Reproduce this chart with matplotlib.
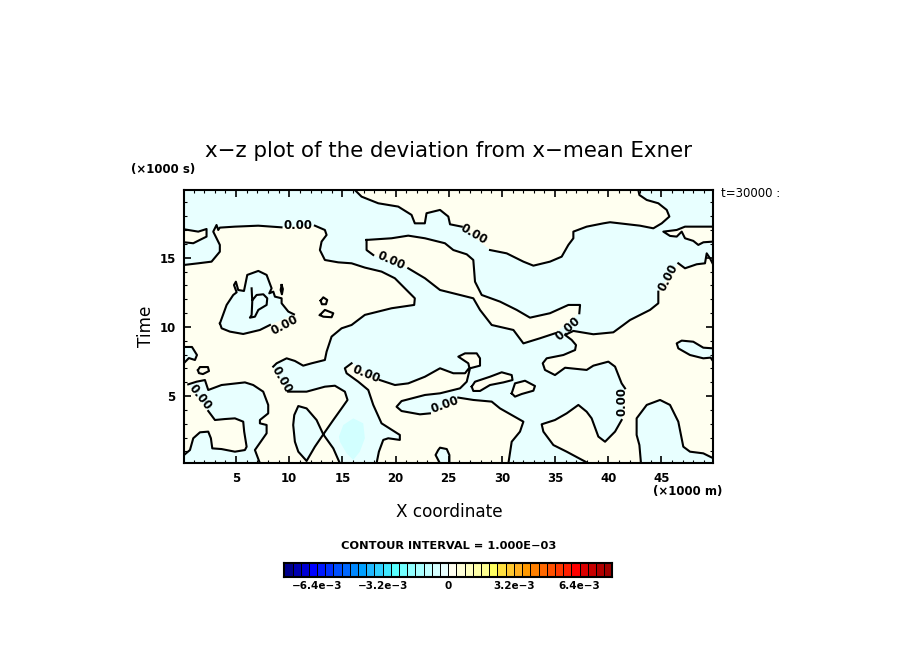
# -*- coding: utf-8 -*-
import numpy as np
import matplotlib
matplotlib.use("Agg")
import matplotlib.pyplot as plt
from matplotlib.colors import ListedColormap
from matplotlib.ticker import MultipleLocator

nan = np.nan

# -------------------- zero contours (x in km, t in ks) --------------------
# nan = gap in the line where a contour label sits
# cream regions
top_x = [16.17, 16.80, 18.37, 20.25, 21.50, 21.81, 22.75, 22.91, 24.18, 24.96, 25.12, 26.22, nan, 28.88, 30.45, 32.02, 32.96, 34.52, 35.62, 36.25, 36.72, 36.72, 37.97, 39.54, 40.17, 42.99, 44.24, 45.03, 45.75, 45.50, 44.71, 43.62, 42.93, 42.83]
top_y = [19.90, 19.42, 18.94, 18.70, 18.10, 17.49, 17.49, 18.22, 18.46, 17.98, 17.42, 17.25, nan, 15.56, 15.32, 14.72, 14.43, 14.72, 15.08, 15.93, 16.41, 16.89, 17.25, 17.49, 17.57, 17.32, 17.13, 17.49, 17.98, 18.46, 18.94, 19.18, 19.54, 19.90]

finger_r_x = [49.89, 47.22, 46.44, 45.18, 45.81, 46.44, 46.91, 47.22, 48.00, 48.47, 48.95, 49.89]
finger_r_y = [17.25, 17.25, 17.01, 16.89, 16.58, 16.53, 16.89, 16.41, 16.22, 15.93, 16.12, 16.17]

finger_l_x = [0.10, 1.44, 2.22, 2.22, 1.59, 0.97, 0.10]
finger_l_y = [17.06, 16.89, 17.08, 16.53, 16.29, 16.05, 16.12]

left_x = [0.10, 1.44, 2.69, 3.47, 3.47, 2.85, 3.16, 3.32, 3.47, 4.88, 7.08, 9.27, nan, 12.41, 13.35, 13.51, 13.04, 12.88, 13.35, 14.60, 15.86, 17.11, 18.68, 19.93, 21.03, 21.81, 21.75, 19.62, 17.11, 15.86, 14.92, 13.98, 13.51, 13.35, 12.10, 11.31, 10.53, 9.75, 8.81, 8.49, nan, 9.90, 11.63, 13.35, 14.29, 15.23, 15.48, 14.92, 14.14, 13.20, 14.14, 14.76, 7.24, 6.77, 7.87, 7.87, 7.24, 7.24, 8.02, 8.02, 7.55, 6.61, 5.83, 3.63, 2.38, 2.07, 1.28, 0.50, nan, 2.38, 3.01, 3.95, 4.89, 5.67, 5.76, 5.99, 5.83, 4.89, 3.63, 2.76, 2.63, 2.38, 1.60, 0.97, 0.66, 0.10]
left_y = [14.48, 14.60, 14.72, 15.44, 15.93, 16.89, 17.37, 17.01, 17.18, 17.25, 17.32, 17.20, nan, 17.32, 17.01, 16.65, 16.17, 15.56, 14.84, 14.67, 14.60, 14.29, 14.00, 13.52, 12.67, 12.07, 11.59, 11.35, 10.87, 10.14, 9.90, 9.30, 8.21, 7.61, 7.37, 7.20, 7.54, 7.73, 7.37, 7.13, nan, 5.32, 5.32, 5.68, 5.75, 5.32, 4.72, 4.11, 3.27, 2.23, 1.22, 0.14, 0.14, 1.10, 2.31, 2.91, 3.03, 3.27, 3.75, 4.36, 5.32, 5.80, 5.99, 5.80, 5.44, 6.16, 6.04, 5.85, nan, 3.92, 3.27, 3.34, 3.39, 3.15, 2.43, 1.34, 1.10, 0.98, 1.17, 1.22, 1.95, 2.43, 2.38, 1.95, 1.10, 0.74]

band_x = [17.27, 19.62, 21.19, 22.76, 24.64, 25.43, 26.69, 27.31, 27.47, 28.10, 29.82, 31.39, 32.64, 34.52, 36.25, 37.35, 37.28, nan, 35.00, 33.58, 32.02, 31.08, 29.04, 27.94, 27.31, 26.06, 24.18, 22.76, 21.19, nan, 17.90, 17.27, 17.27]
band_y = [16.29, 16.41, 16.60, 16.41, 16.05, 15.56, 15.25, 14.84, 13.27, 12.31, 11.83, 11.23, 10.67, 10.99, 11.59, 11.59, 10.99, nan, 9.54, 9.18, 8.81, 9.78, 10.14, 11.23, 12.07, 12.31, 12.67, 13.52, 14.24, nan, 15.20, 15.56, 16.29]

right_x = [49.89, 49.57, 49.26, 49.10, 48.32, 47.22, 46.59, nan, 44.71, 44.71, 43.93, 42.05, 41.42, 40.48, 38.60, 36.72, 35.94, 36.56, 36.97, 36.88, 35.78, 34.21, 33.84, 34.05, 34.99, 35.94, 37.97, 38.60, 40.01, 40.64, 41.26, 41.58, nan, 41.26, 40.64, 39.70, 39.07, 38.44, 37.97, 37.19, 36.09, 34.99, 33.74, 33.90, 34.84, 36.09, 38.13, 43.08, 42.93, 42.67, 42.67, 43.62, 44.87, 45.81, 46.59, 47.06, 47.69, 48.94, 49.89]
right_y = [14.48, 14.96, 15.32, 14.60, 14.53, 14.24, 14.60, nan, 12.55, 11.71, 11.23, 10.50, 10.14, 9.61, 9.47, 9.71, 9.42, 9.06, 8.69, 8.33, 7.97, 7.73, 7.37, 6.89, 6.52, 7.05, 6.89, 7.20, 7.49, 7.13, 5.92, 5.56, nan, 3.27, 2.43, 1.70, 2.07, 3.39, 3.87, 4.36, 3.75, 3.27, 2.96, 2.43, 1.46, 0.98, 0.14, 0.14, 1.46, 2.19, 3.39, 4.36, 4.72, 4.36, 3.15, 1.34, 0.98, 0.86, 0.50]

mid_x = [18.21, 18.43, 18.84, 19.31, 20.40, 20.40, 18.68, 17.90, 17.43, 16.49, 15.39, 15.23, 15.86, nan, 18.52, 19.94, 21.19, 22.76, 24.18, 25.43, 26.53, 26.94, 26.84, 25.90, 26.53, 27.63, 27.94, 27.94, 27.00, 26.69, 26.06, 24.81, 24.18, 22.76, 20.56, 20.09, 20.56, 22.29, 23.23, nan, 25.90, 27.31, 29.04, 29.82, 32.02, 31.70, 30.92, 30.61]
mid_y = [0.14, 0.98, 1.83, 1.95, 1.83, 2.19, 3.03, 4.36, 5.44, 6.04, 6.65, 7.01, 7.37, nan, 6.16, 5.80, 5.92, 6.40, 7.01, 6.65, 6.65, 7.05, 7.37, 7.85, 8.09, 8.09, 7.73, 7.20, 7.01, 6.04, 5.56, 5.32, 5.20, 5.08, 4.64, 4.23, 3.92, 3.68, 3.75, nan, 4.89, 4.72, 4.60, 4.11, 3.15, 2.43, 1.70, 0.14]

isle_a_x = [27.16, 27.47, 28.88, 29.98, 30.92, 31.00, 30.14, 28.88, 27.94, 27.31, 27.16]
isle_a_y = [5.68, 6.04, 6.40, 6.72, 6.52, 6.16, 5.99, 5.80, 5.37, 5.37, 5.68]
isle_b_x = [30.92, 31.23, 32.17, 33.11, 32.96, 31.86, 31.23, 30.92]
isle_b_y = [5.20, 5.92, 6.11, 5.73, 5.39, 5.15, 4.96, 5.20]

# cyan regions lying on the cream
island_x = [3.48, 4.11, 4.73, 5.05, 4.80, 4.98, 5.20, 5.74, 6.05, 7.09, 7.87, 8.34, 8.12, 8.50, 8.65, 9.28, 9.28, 9.91, 10.44, nan, 8.18, 7.24, 5.67, 4.42, 3.64, 3.48]
island_y = [10.26, 11.59, 12.31, 12.50, 13.03, 13.27, 12.67, 12.60, 13.76, 14.05, 13.76, 12.79, 12.43, 12.55, 12.19, 12.07, 11.71, 11.11, 10.91, nan, 10.14, 9.78, 9.49, 9.66, 9.90, 10.26]
lobe_x = [13.20, 12.57, 11.63, 10.85, 10.47, 10.37, 10.53, 10.85, 11.63, 12.41, 13.20]
lobe_y = [2.23, 3.27, 4.11, 4.28, 3.63, 2.91, 1.70, 0.98, 0.31, 1.34, 2.23]
edge_blob_x = [0.10, 0.85, 1.32, 1.13, 0.56, 0.19]
edge_blob_y = [8.55, 8.55, 7.97, 7.61, 7.75, 7.46]
finger_c_x = [49.89, 48.94, 48.00, 46.91, 46.44, 46.59, 47.69, 48.94, 49.63, 49.89]
finger_c_y = [8.45, 8.50, 8.93, 9.01, 8.81, 8.45, 7.97, 7.73, 7.78, 7.49]
foot_x = [24.17, 23.76, 24.01, 24.18, 24.81, 25.06, 25.06]
foot_y = [0.14, 0.74, 1.10, 1.27, 1.17, 0.74, 0.14]

# line only, no colour change
inner_x = [6.46, 6.52, 6.46, 6.30, 6.77, 7.09, 7.87, 7.93, 7.56, 6.93, 6.55]
inner_y = [12.79, 11.83, 10.86, 10.67, 10.74, 11.23, 11.59, 12.07, 12.36, 12.31, 11.95]
ring_a_x = [1.41, 1.60, 2.35, 2.45, 1.88, 1.50, 1.41]
ring_a_y = [6.88, 7.10, 7.10, 6.81, 6.59, 6.66, 6.88]
ring_b_x = [9.28, 9.40, 9.31, 9.19, 9.28]
ring_b_y = [13.03, 12.74, 12.36, 12.67, 13.03]
ring_c_x = [12.95, 13.20, 13.57, 13.45, 13.07, 12.95]
ring_c_y = [11.90, 12.14, 11.95, 11.64, 11.64, 11.90]
ring_d_x = [12.88, 13.35, 14.14, 13.98, 13.20, 12.88]
ring_d_y = [10.86, 11.23, 10.99, 10.70, 10.74, 10.86]

# -1e-3 patch, no line
patch_x = [14.67, 15.08, 16.02, 16.96, 17.11, 16.64, 16.02, 15.39, 14.76]
patch_y = [2.07, 2.91, 3.39, 3.03, 1.95, 0.98, 0.38, 0.86, 1.70]

# contour labels: x, t, angle
label_x = [10.8, 19.6, 27.4, 45.6, 36.2, 9.6, 9.3, 17.2, 1.6, 24.6, 41.3]
label_y = [17.3, 14.8, 16.7, 13.6, 9.9, 10.1, 6.2, 6.6, 4.9, 4.4, 4.6]
label_rot = [0, -24, -30, 62, 42, 28, -60, -22, -52, 20, 90]

# colour bar
bar_levels = [-8.0, -7.6, -7.2, -6.8, -6.4, -6.0, -5.6, -5.2, -4.8, -4.4, -4.0, -3.6, -3.2, -2.8, -2.4, -2.0, -1.6, -1.2, -0.8, -0.4, 0.0,
              0.4, 0.8, 1.2, 1.6, 2.0, 2.4, 2.8, 3.2, 3.6, 4.0, 4.4, 4.8, 5.2, 5.6, 6.0, 6.4, 6.8, 7.2, 7.6, 8.0]
bar_colors = ['#00008B', '#0000B0', '#0000D5', '#0000FF', '#0018FF', '#0030FF', '#0050FF', '#0068FF', '#0088FF', '#00A0FF',
              '#20B8FF', '#30D0FF', '#40E8FF', '#58FFFF', '#70FFFF', '#90FFFF', '#A8FFFF', '#C0FFFF', '#D4FFFF', '#E8FFFF',
              '#FFFFF0', '#FFFFD8', '#FFFFC0', '#FFFFA8', '#FFFF90', '#FFFF60', '#FFE040', '#FFC830', '#FFB020', '#FF9900',
              '#FF8000', '#FF6800', '#FF5000', '#FF3800', '#FF1F00', '#FF0000', '#DD0000', '#C80000', '#B00000', '#A00000']
bar_ticks = [-6.4, -3.2, 0, 3.2, 6.4]
bar_ticklabels = ['−6.4e−3', '−3.2e−3', '0', '3.2e−3', '6.4e−3']

CYAN = '#E8FFFF'
CREAM = '#FFFFF0'
PATCH = '#D2FFFF'
W, H = 904, 654


def no_gaps(a):
    a = np.array(a, dtype=float)
    return a[~np.isnan(a)]


def region(ax, x, y, color):
    ax.fill(no_gaps(x), no_gaps(y), color=color, lw=0, zorder=1)


def fig_text(fig, px, py, s, **kw):
    fig.text(px / W, 1 - py / H, s, ha=kw.pop('ha', 'center'), va='center', color='k', **kw)


fig = plt.figure(figsize=(W / 100, H / 100), dpi=100)
ax = fig.add_axes([184 / W, 1 - 463.3 / H, 529.5 / W, 273.3 / H])
ax.set_xlim(0.1, 49.9)
ax.set_ylim(0.14, 19.9)
ax.set_facecolor(CYAN)

cream = [(top_x, top_y), (finger_r_x, finger_r_y), (finger_l_x, finger_l_y), (left_x, left_y),
         (band_x, band_y), (right_x, right_y), (mid_x, mid_y), (isle_a_x, isle_a_y), (isle_b_x, isle_b_y)]
cyan = [(island_x, island_y), (lobe_x, lobe_y), (edge_blob_x, edge_blob_y),
        (finger_c_x, finger_c_y), (foot_x, foot_y)]
rings = [(inner_x, inner_y), (ring_a_x, ring_a_y), (ring_b_x, ring_b_y),
         (ring_c_x, ring_c_y), (ring_d_x, ring_d_y)]

for x, y in cream:
    region(ax, x, y, CREAM)
for x, y in cyan:
    region(ax, x, y, CYAN)
region(ax, patch_x, patch_y, PATCH)

for x, y in cream + cyan + rings:
    ax.plot(x, y, color='k', lw=1.5, zorder=2, solid_joinstyle='round')

for x, y, r in zip(label_x, label_y, label_rot):
    ax.text(x, y, '0.00', rotation=r, rotation_mode='anchor', ha='center', va='center',
            fontsize=8.5, fontweight='bold', zorder=3)

# axes
ax.set_xticks([5, 10, 15, 20, 25, 30, 35, 40, 45])
ax.set_yticks([5, 10, 15])
ax.xaxis.set_minor_locator(MultipleLocator(1))
ax.yaxis.set_minor_locator(MultipleLocator(1))
ax.tick_params(which='major', direction='in', top=True, right=True, length=5, width=1.2,
               labelsize=8.5, pad=6)
ax.tick_params(which='minor', direction='in', top=True, right=True, length=2.2, width=0.8)
for lab in ax.get_xticklabels() + ax.get_yticklabels():
    lab.set_fontweight('bold')
for sp in ax.spines.values():
    sp.set_linewidth(1.5)
    sp.set_zorder(5)

fig_text(fig, 449, 151, 'x−z plot of the deviation from x−mean Exner', fontsize=15.4)
fig_text(fig, 163, 169, '(×1000 s)', fontsize=8.5, fontweight='bold')
fig_text(fig, 688, 492, '(×1000 m)', fontsize=8.5, fontweight='bold')
fig_text(fig, 721, 194, 't=30000 :', fontsize=8.5, ha='left')
fig_text(fig, 449, 512, 'X coordinate', fontsize=12.2)
fig.text(146 / W, 1 - 326 / H, 'Time', fontsize=12.2, rotation=90, ha='center', va='center')
fig_text(fig, 449, 546, 'CONTOUR INTERVAL = 1.000E−03', fontsize=8.2, fontweight='bold')

# colour bar
cax = fig.add_axes([284.3 / W, 1 - 576.7 / H, 328 / W, 14 / H])
cmap = ListedColormap(bar_colors)
values = np.array([(a + b) / 2 for a, b in zip(bar_levels[:-1], bar_levels[1:])]).reshape(1, -1)
cax.pcolormesh(bar_levels, [0, 1], values, cmap=cmap, vmin=-8, vmax=8, edgecolors='k', linewidth=0.45)
cax.set_yticks([])
cax.set_xticks(bar_ticks)
cax.set_xticklabels(bar_ticklabels, fontsize=7.5, fontweight='bold')
cax.tick_params(axis='x', length=0, pad=3)
for sp in cax.spines.values():
    sp.set_linewidth(1.5)

fig.savefig('out.png', dpi=100)
